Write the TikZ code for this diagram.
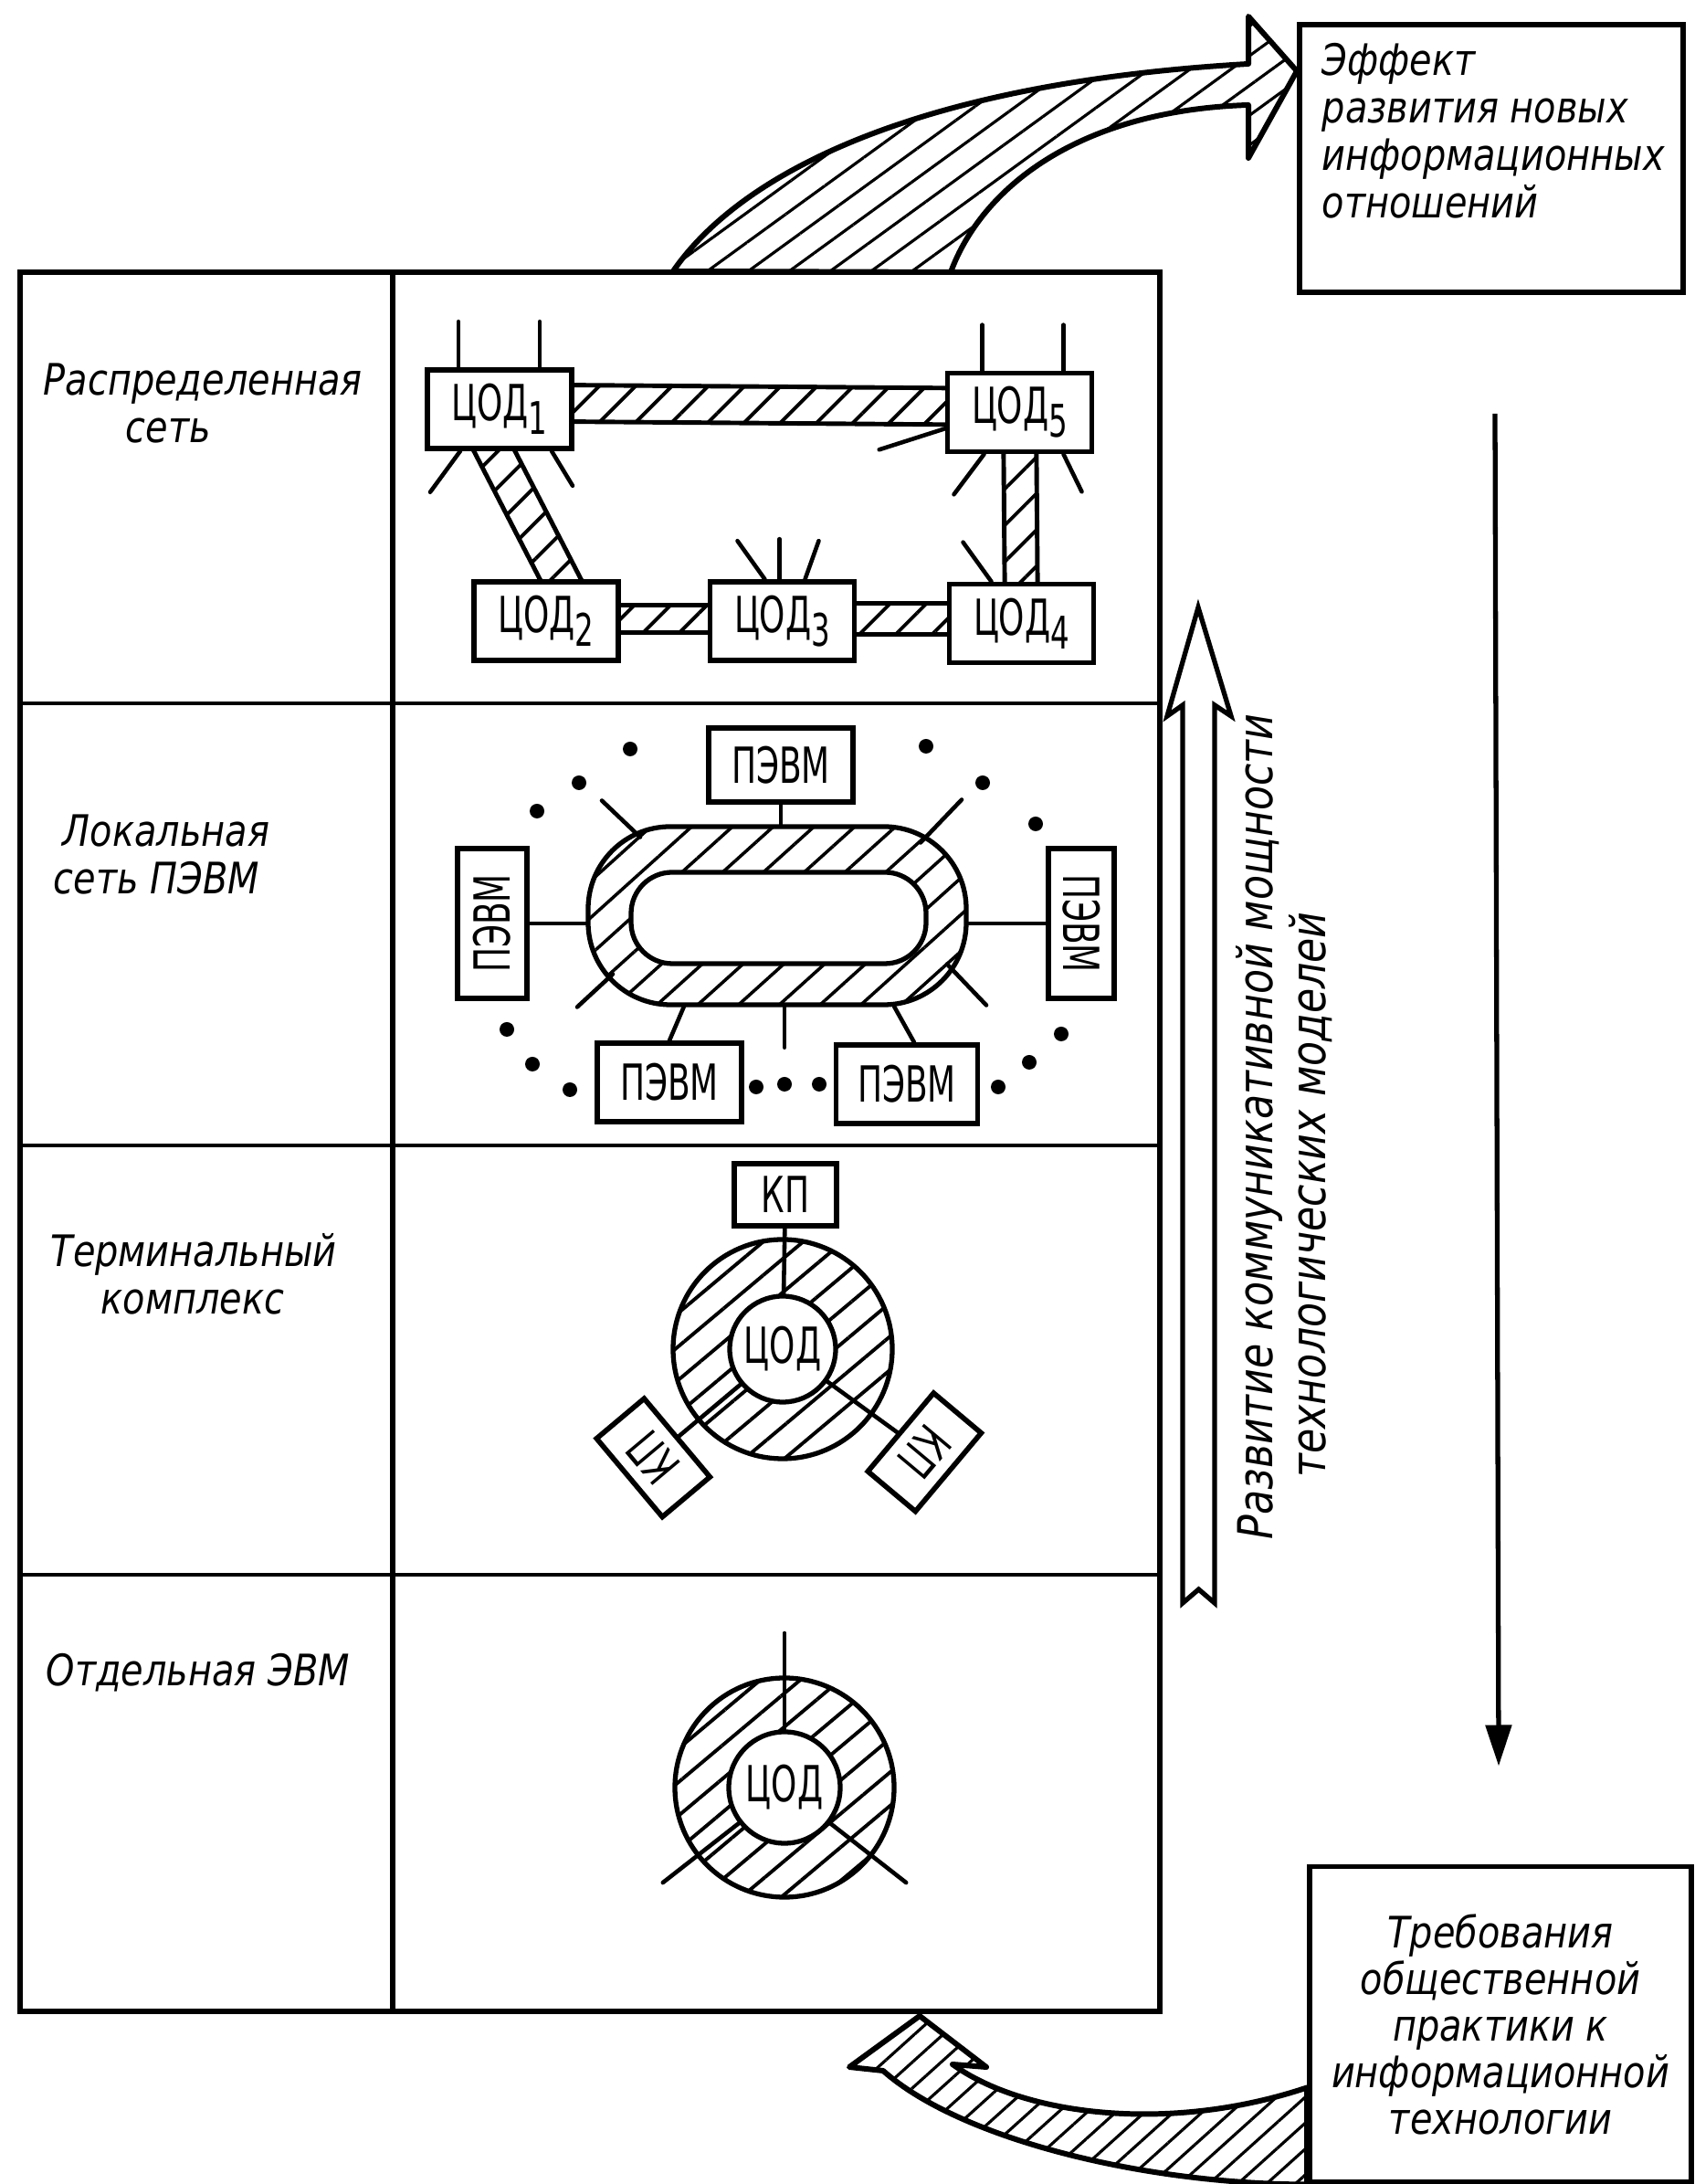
\documentclass[tikz,border=0pt]{standalone}
\usepackage{fontspec}
\setmainfont{DejaVu Sans}[FakeStretch=0.84]
\newfontfamily\unitfont{DejaVu Sans}[FakeStretch=0.66]
\usetikzlibrary{arrows.meta,calc,patterns.meta,backgrounds}

\newcommand\lowidx[1]{\raisebox{-0.5ex}{\fontsize{14}{14}\selectfont #1}}
\newcommand\hatchlink[3]{%
  \path[link] ($(#1)!#3!90:(#2)$) -- ($(#2)!#3!-90:(#1)$)
    -- ($(#2)!#3!90:(#1)$) -- ($(#1)!#3!-90:(#2)$) -- cycle;}

\begin{document}
\begin{tikzpicture}[
    tableframe/.style={line width=1.8pt},
    tablerule/.style={line width=1.1pt},
    unit/.style={
      draw,
      line width=1.6pt,
      fill=white,
      minimum width=1.58cm,
      minimum height=0.86cm,
      inner sep=2pt,
      font=\unitfont\fontsize{15.5}{16}\selectfont
    },
    kp/.style={unit, minimum width=1.12cm, minimum height=0.68cm},
    cod/.style={
      circle,
      draw,
      line width=1.5pt,
      fill=white,
      inner sep=0pt,
      font=\unitfont\fontsize{15.5}{16}\selectfont
    },
    wire/.style={line width=1.3pt, line cap=round},
    link/.style={
      draw,
      line width=1.4pt,
      pattern={Lines[angle=45,distance=8pt,line width=1.1pt]}
    },
    ringfill/.style={
      draw,
      line width=1.5pt,
      pattern={Lines[angle=40,distance=8pt,line width=1.1pt]}
    },
    bigarrow/.style={draw, line width=1.7pt, line join=round},
    caption/.style={
      font=\itshape\fontsize{13.5}{14.8}\selectfont,
      inner sep=0pt,
      align=left
    }
  ]
    \useasboundingbox (0,0) rectangle (18.55,23.91);

    % table
    \draw[tableframe] (0.22,1.89) rectangle (12.70,20.93);
    \draw[tableframe] (4.30,1.89) -- (4.30,20.93);
    \draw[tablerule] (0.22,16.21) -- (12.70,16.21);
    \draw[tablerule] (0.22,11.37) -- (12.70,11.37);
    \draw[tablerule] (0.22,6.67) -- (12.70,6.67);

    \node[caption, anchor=west] (lbl1) at (0.47,19.49) {Распределенная\\\hspace*{0.9cm}сеть};
    \node[caption, anchor=west] (lbl2) at (0.58,14.55) {\hspace*{0.1cm}Локальная\\сеть ПЭВМ};
    \node[caption, anchor=west] (lbl3) at (0.55,9.96) {Терминальный\\\hspace*{0.55cm}комплекс};
    \node[caption, anchor=west] (lbl4) at (0.50,5.60) {Отдельная ЭВМ};

    % distributed network
    \node[unit] (c1) at (5.47,19.43) {ЦОД\lowidx{1}};
    \node[unit] (c5) at (11.165,19.395) {ЦОД\lowidx{5}};
    \node[unit] (c2) at (5.98,17.11) {ЦОД\lowidx{2}};
    \node[unit] (c3) at (8.565,17.11) {ЦОД\lowidx{3}};
    \node[unit] (c4) at (11.185,17.085) {ЦОД\lowidx{4}};

    \coordinate (l15a) at ($(c1)+(0,0.07)$);
    \coordinate (l15b) at ($(c5)+(0,0.06)$);
    \coordinate (l12a) at ($(c1)+(-0.21,-0.16)$);
    \coordinate (l12b) at ($(c2)+(0.29,0.20)$);
    \coordinate (l23a) at ($(c2)+(0,0.025)$);
    \coordinate (l23b) at ($(c3)+(0,0.025)$);
    \coordinate (l34b) at ($(c4)+(0,0.05)$);
    \begin{scope}[on background layer]
      \hatchlink{l15a}{l15b}{0.2cm}
      \hatchlink{l12a}{l12b}{0.2cm}
      \hatchlink{c5}{c4}{0.18cm}
      \hatchlink{l23a}{l23b}{0.15cm}
      \hatchlink{l23b}{l34b}{0.17cm}
    \end{scope}

    \draw[wire] ([xshift=-0.45cm]c1.north) -- ++(0,0.5);
    \draw[wire] ([xshift=0.44cm]c1.north) -- ++(0,0.5);
    \draw[wire] ([xshift=-0.43cm]c1.south) -- ++(-0.33,-0.45);
    \draw[wire] ([xshift=0.57cm]c1.south) -- ++(0.23,-0.38);
    \draw[wire] ([xshift=-0.41cm]c5.north) -- ++(0,0.5);
    \draw[wire] ([xshift=0.48cm]c5.north) -- ++(0,0.5);
    \draw[wire] ([xshift=-0.39cm]c5.south) -- ++(-0.33,-0.44);
    \draw[wire] ([xshift=0.48cm]c5.south) -- ++(0.2,-0.41);
    \draw[wire] ([yshift=0.28cm]c5.south west) -- ++(-0.72,-0.23);
    \draw[wire] ([xshift=-0.19cm]c3.north) -- ++(-0.3,0.42);
    \draw[wire] ([xshift=-0.03cm]c3.north) -- ++(0,0.44);
    \draw[wire] ([xshift=0.25cm]c3.north) -- ++(0.15,0.42);
    \draw[wire] ([xshift=-0.33cm]c4.north) -- ++(-0.31,0.43);

    % local network of PCs
    \node[ringfill, rounded corners=0.9cm, minimum width=4.14cm, minimum height=1.95cm,
      pattern={Lines[angle=42,distance=8.5pt,line width=1pt]}] (ring) at (8.51,13.885) {};
    \node[draw, line width=1.5pt, fill=white, rounded corners=0.45cm,
      minimum width=3.23cm, minimum height=1.0cm] (hole) at (8.525,13.86) {};

    \node[unit, minimum height=0.81cm] (pt) at (8.55,15.535) {ПЭВМ};
    \node[unit, rotate=90, minimum width=1.64cm, minimum height=0.76cm] (pl) at (5.39,13.80) {ПЭВМ};
    \node[unit, rotate=-90, minimum width=1.64cm, minimum height=0.72cm] (pr) at (11.84,13.80) {ПЭВМ};
    \node[unit] (pbl) at (7.33,12.06) {ПЭВМ};
    \node[unit, minimum width=1.55cm] (pbr) at (9.93,12.04) {ПЭВМ};

    \draw[wire] (pt.south) -- (pt.south |- ring.north);
    \draw[wire] (pl.south) -- (pl.south -| ring.west);
    \draw[wire] (pr.south) -- (pr.south -| ring.east);
    \draw[wire] (pbl.north) -- ($(ring.south)+(-1.02,0)$);
    \draw[wire] ([xshift=0.08cm]pbr.north) -- ($(ring.south)+(1.28,0)$);
    \draw[wire] ($(ring.south)+(0.08,0)$) -- ++(0,-0.45);
    \draw[wire] ($(ring)+(-1.5,0.86)$) -- ++(-0.42,0.4);
    \draw[wire] ($(ring)+(1.57,0.8)$) -- ++(0.45,0.47);
    \draw[wire] ($(ring)+(-1.8,-0.64)$) -- ++(-0.39,-0.36);
    \draw[wire] ($(ring)+(1.86,-0.53)$) -- ++(0.43,-0.45);

    \fill (6.90,15.71) circle (0.08) (6.34,15.34) circle (0.08)
      (5.88,15.03) circle (0.08) (5.55,12.64) circle (0.08)
      (5.83,12.26) circle (0.08) (6.24,11.98) circle (0.08)
      (8.28,12.01) circle (0.08) (8.59,12.04) circle (0.08)
      (8.97,12.04) circle (0.08) (10.93,12.01) circle (0.08)
      (11.27,12.28) circle (0.08) (11.62,12.59) circle (0.08)
      (11.34,14.89) circle (0.08) (10.76,15.34) circle (0.08)
      (10.14,15.74) circle (0.08);

    % terminal complex
    \node[ringfill, circle, minimum size=2.4cm, inner sep=0pt] (tring) at (8.57,9.14) {};
    \node[cod, minimum size=1.16cm] (tcod) at (tring) {ЦОД};
    \node[kp] (kp1) at (8.60,10.83) {КП};
    \node[kp, rotate=130] (kp2) at ($(tring)+(220:1.85)$) {КП};
    \node[kp, rotate=-130] (kp3) at ($(tring)+(-36:1.92)$) {КП};
    \draw[wire] (kp1) -- (tcod);
    \draw[wire] (kp2) -- (tcod);
    \draw[wire] (kp3) -- (tcod);

    % single computer
    \node[ringfill, circle, minimum size=2.4cm, inner sep=0pt] (bring) at (8.59,4.34) {};
    \node[cod, minimum size=1.22cm] (bcod) at (bring) {ЦОД};
    \draw[wire] (bcod.90) -- ($(bcod)+(90:1.69)$);
    \draw[wire] (bcod.218) -- ($(bcod)+(218:1.69)$);
    \draw[wire] (bcod.-38) -- ($(bcod)+(-38:1.69)$);

    % hollow arrow and its caption
    \draw[line width=1.5pt, line join=miter] (12.95,6.36) -- (12.95,16.19) -- (12.78,16.07)
      -- (13.12,17.26) -- (13.48,16.07) -- (13.30,16.19) -- (13.30,6.36) -- (13.125,6.51) -- cycle;
    \node[caption, rotate=90, anchor=west, font=\itshape\fontsize{15}{16.5}\selectfont] (growth)
      at (14.06,7.05) {Развитие коммуникативной мощности\\\hspace*{0.68cm}технологических моделей};

    % outer boxes
    \node[draw, line width=1.7pt, minimum width=4.2cm, minimum height=2.93cm] (eff) at (16.33,22.175) {};
    \node[caption, anchor=north west] (efftext) at (14.47,23.44)
      {Эффект\\развития новых\\информационных\\отношений};
    \node[draw, line width=1.7pt, minimum width=4.18cm, minimum height=3.45cm,
      align=center, font=\itshape\fontsize{13.5}{14.5}\selectfont] (req) at (16.43,1.75)
      {Требования\\общественной\\практики к\\информационной\\технологии};

    \draw[line width=1.5pt, -{Triangle[length=0.45cm,width=0.28cm]}]
      ([xshift=0.04cm,yshift=-1.3cm]eff.south) -- ([xshift=-0.02cm,yshift=1.07cm]req.north);

    % wide hatched arrows
    \coordinate (efftip) at ($(eff.north west)!0.18!(eff.south west)$);
    \path[bigarrow, pattern={Lines[angle=36,distance=7.5pt,line width=0.9pt]}]
      (7.37,20.94) .. controls (8.1,22.0) and (10.0,23.0) .. (13.67,23.21)
      -- (13.67,23.73) -- (efftip) -- (13.67,22.18) -- (13.67,22.76)
      .. controls (11.8,22.7) and (10.75,21.85) .. (10.41,20.93) -- cycle;
    \path[bigarrow, pattern={Lines[angle=42,distance=6pt,line width=0.9pt]}]
      (req.south west) .. controls (12.5,0.0) and (10.5,0.5) .. (9.67,1.24)
      -- (9.30,1.28) -- (10.07,1.84) -- (10.80,1.28) -- (10.43,1.31)
      .. controls (11.2,0.75) and (12.8,0.55) .. ([yshift=1.06cm]req.south west) -- cycle;
  \end{tikzpicture}
\end{document}
